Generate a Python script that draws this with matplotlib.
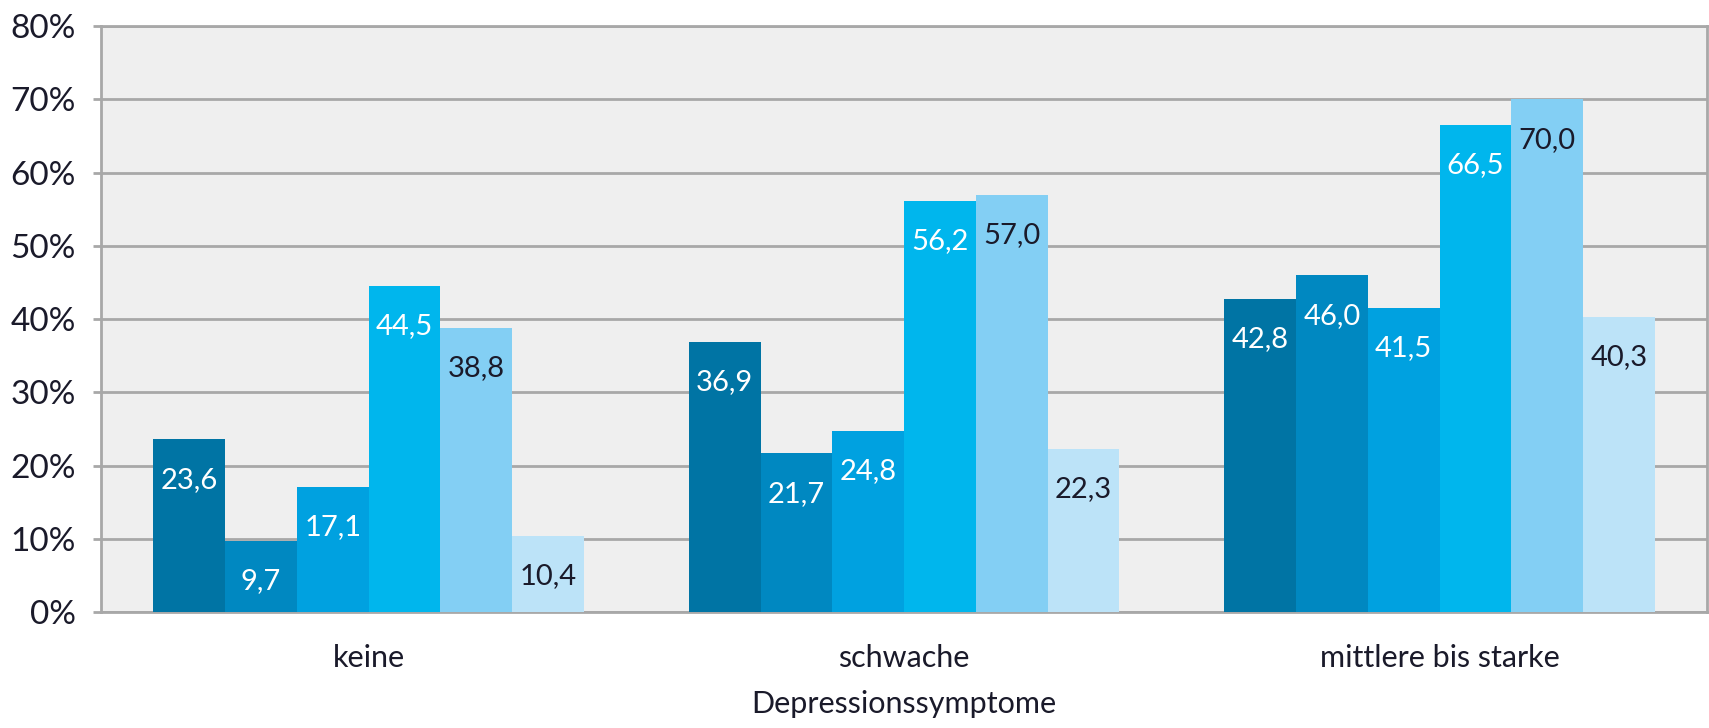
import matplotlib.pyplot as plt
import numpy as np

# Daten
kategorien = ['keine', 'schwache', 'mittlere bis starke']
serie_1 = [23.6, 36.9, 42.8]
serie_2 = [9.7, 21.7, 46.0]
serie_3 = [17.1, 24.8, 41.5]
serie_4 = [44.5, 56.2, 66.5]
serie_5 = [38.8, 57.0, 70.0]
serie_6 = [10.4, 22.3, 40.3]
y_ticks = [0, 10, 20, 30, 40, 50, 60, 70, 80]

serien = [serie_1, serie_2, serie_3, serie_4, serie_5, serie_6]
farben = ['#0074A4', '#0088C1', '#00A1E0', '#00B6ED', '#83CFF4', '#BCE3F8']
text_farben = ['white', 'white', 'white', 'white', '#1A1A2A', '#1A1A2A']

plt.rcParams['font.family'] = ['Lato', 'DejaVu Sans']

fig = plt.figure(figsize=(17.09, 7.28), dpi=100)
ax = fig.add_axes([0.059, 0.159, 0.94, 0.805])
ax.set_facecolor('#EFEFEF')

x = np.arange(len(kategorien))
breite = 0.134
for i, werte in enumerate(serien):
    pos = x + (i - 2.5) * breite
    bars = ax.bar(pos, werte, breite, color=farben[i], zorder=3)
    for b, v in zip(bars, werte):
        ax.annotate(f'{v:.1f}'.replace('.', ','),
                    (b.get_x() + b.get_width() / 2, v),
                    xytext=(0, -29), textcoords='offset points',
                    ha='center', va='center', fontsize=21,
                    color=text_farben[i], zorder=4)

ax.set_xlim(-0.5, 2.5)
ax.set_ylim(0, 80)
ax.set_yticks(y_ticks)
ax.set_yticklabels([f'{t}%' for t in y_ticks], fontsize=24, color='#1A1A2A')
ax.set_xticks(x)
ax.set_xticklabels(kategorien, fontsize=22, color='#1A1A2A')
ax.tick_params(axis='x', length=0, pad=23)
ax.tick_params(axis='y', length=6, color='#A8A8A8', width=2, pad=12)
ax.set_xlabel('Depressionssymptome', fontsize=22, color='#1A1A2A', labelpad=13)

ax.grid(axis='y', color='#A8A8A8', linewidth=2, zorder=1)
for s in ax.spines.values():
    s.set_color('#A8A8A8')
    s.set_linewidth(2)

fig.savefig('out.png', dpi=100)
